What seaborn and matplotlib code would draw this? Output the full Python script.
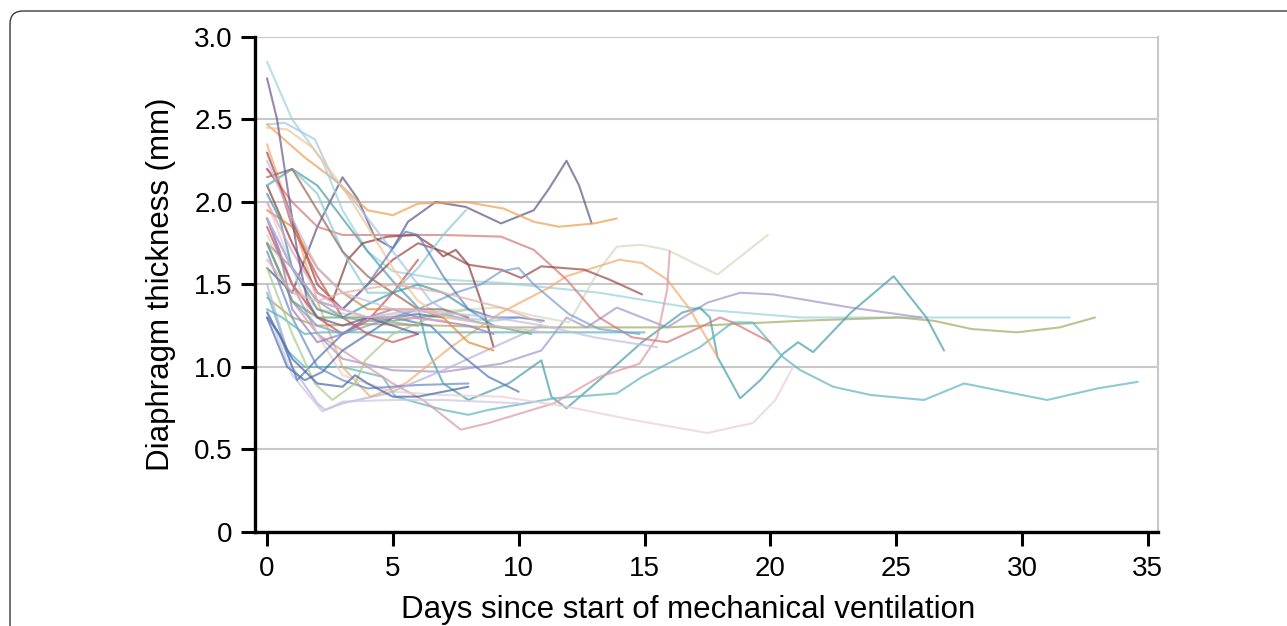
import numpy as np
import pandas as pd
import matplotlib
matplotlib.use("Agg")
import matplotlib.pyplot as plt
from matplotlib.patches import FancyBboxPatch
import seaborn as sns

# Diaphragm thickness per patient: (day, mm)
pt01 = [(0, 1.6), (1, 1.45), (2, 1.85), (3, 2.15), (3.6, 2.02), (4.3, 1.78), (5, 1.72), (5.6, 1.88), (6.7, 2.0),
        (7.9, 1.97), (9.3, 1.87), (10.6, 1.95), (11.2, 2.08), (11.9, 2.25), (12.4, 2.1), (12.9, 1.87)]
pt02 = [(0, 2.47), (1.5, 2.27), (2.8, 2.12), (4, 1.95), (5, 1.92), (6, 1.99), (7.9, 2.0), (9.4, 1.96), (10.6, 1.88),
        (11.6, 1.85), (13, 1.87), (13.9, 1.9)]
pt03 = [(0, 2.85), (1, 2.5), (2.2, 2.25), (3, 1.95), (4, 1.7), (5, 1.58), (7, 1.53), (9.3, 1.51), (13.2, 1.45),
        (17.2, 1.35), (21.2, 1.3), (25, 1.3), (31.9, 1.3)]
pt04 = [(0, 1.42), (1, 1.3), (2, 1.25), (4, 1.26), (7, 1.25), (9.3, 1.24), (15.9, 1.24), (21.2, 1.28), (25.1, 1.3),
        (26.5, 1.28), (28, 1.23), (29.8, 1.21), (31.5, 1.24), (32.9, 1.3)]
pt05 = [(0, 1.9), (1, 1.5), (2, 1.2), (3, 1.05), (5, 0.98), (7, 0.97), (9.3, 1.02), (10.9, 1.1), (11.9, 1.3),
        (12.7, 1.24), (13.9, 1.36), (14.9, 1.3), (15.9, 1.24), (17.5, 1.39), (18.8, 1.45), (20.1, 1.44),
        (23.2, 1.36), (26, 1.3)]
pt06 = [(0, 2.1), (1, 2.2), (2, 2.1), (3, 1.9), (4, 1.7), (5, 1.52), (6, 1.36), (6.4, 1.1), (7, 0.9), (8, 0.8),
        (9.6, 0.9), (10.9, 1.04), (11.3, 0.82), (11.9, 0.75), (13.2, 0.92), (14.9, 1.15), (16.5, 1.33),
        (17.2, 1.36), (17.6, 1.3), (17.9, 1.06), (18.8, 0.81), (19.6, 0.92), (20.5, 1.08), (21.1, 1.15),
        (21.7, 1.09), (23.2, 1.33), (24.9, 1.55), (26.2, 1.3), (26.9, 1.1)]
pt07 = [(0, 1.45), (0.8, 1.1), (1.5, 1.0), (3, 1.0), (4.6, 0.94), (5.1, 0.82), (7, 0.74), (8, 0.71), (8.8, 0.74),
        (11.4, 0.81), (13.9, 0.84), (14.9, 0.94), (17.2, 1.12), (18.5, 1.27), (19.3, 1.27), (20.5, 1.06),
        (21.2, 0.98), (22.5, 0.88), (24, 0.83), (26.1, 0.8), (27.7, 0.9), (29, 0.86), (31, 0.8), (33, 0.87),
        (34.6, 0.91)]
pt08 = [(0, 1.8), (1, 1.5), (2, 1.35), (4, 1.3), (6, 1.33), (8, 1.35), (9.3, 1.36), (10.6, 1.31), (12, 1.27),
        (13.2, 1.59), (13.9, 1.73), (14.9, 1.74), (15.9, 1.71), (17.9, 1.56), (19.9, 1.8)]
pt09 = [(0, 2.35), (1, 1.9), (2, 1.4), (3, 1.0), (4.1, 0.82), (5.5, 0.9), (7.3, 1.12), (9.3, 1.33), (11.2, 1.48),
        (11.9, 1.55), (14, 1.65), (14.9, 1.63), (15.9, 1.53), (16.8, 1.35), (17.9, 1.06)]
pt10 = [(0, 1.75), (1, 1.4), (2, 1.2), (3, 1.1), (4, 1.0), (5, 0.9), (6.2, 0.8), (7.7, 0.62), (8.8, 0.66),
        (11.4, 0.78), (13.2, 0.94), (14.8, 1.02), (15.5, 1.18), (15.9, 1.47), (16, 1.7)]
pt11 = [(0, 2.0), (1, 1.6), (2, 1.2), (3, 0.95), (5, 0.85), (7, 0.83), (9.3, 0.82), (11.9, 0.76), (14.5, 0.68),
        (17.5, 0.6), (19.3, 0.66), (20.2, 0.8), (20.9, 1.0)]
pt12 = [(0, 2.2), (1, 2.0), (2, 1.85), (3, 1.8), (5, 1.8), (7, 1.8), (9.3, 1.79), (10.6, 1.71), (11.9, 1.53),
        (13.2, 1.3), (14.5, 1.18), (15.9, 1.15), (17.2, 1.24), (18, 1.3), (18.5, 1.27), (20, 1.15)]
pt13 = [(0, 2.3), (1, 1.9), (2, 1.5), (3, 1.35), (4, 1.5), (5, 1.65), (6, 1.75), (7, 1.7), (8, 1.62), (9.3, 1.59),
        (10.1, 1.54), (10.9, 1.61), (12.6, 1.59), (13.6, 1.53), (14.9, 1.44)]
pt14 = [(0, 2.1), (1, 1.75), (2, 1.45), (2.6, 1.4), (3.2, 1.65), (3.8, 1.75), (4.8, 1.79), (5.9, 1.8), (6.6, 1.73),
        (7, 1.67), (7.5, 1.71), (8, 1.62), (8.5, 1.4), (9, 1.12)]
pt15 = [(0, 1.85), (1, 1.5), (2, 1.3), (3, 1.2), (4, 1.28), (5, 1.45), (6, 1.65)]
pt16 = [(0, 1.7), (1, 1.3), (2, 1.0), (3, 0.92), (4, 0.87), (5.9, 0.89), (8, 0.9)]
pt17 = [(0, 1.5), (1, 1.0), (2, 0.78), (2.3, 0.74), (3, 0.78), (4.8, 0.84), (7, 0.98), (9, 1.12), (10.9, 1.25)]
pt18 = [(0, 1.35), (1, 0.95), (2.2, 0.73), (3, 0.79), (5, 0.8), (7, 0.8), (10, 0.78)]
pt19 = [(0, 1.3), (0.5, 1.2), (1.2, 0.92), (2, 1.05), (3, 1.2), (4, 1.3), (5, 1.3), (6.5, 1.25), (7.5, 1.1),
        (8.8, 0.94), (10, 0.85)]
pt20 = [(0, 1.75), (1, 1.4), (2, 1.25), (3, 1.2), (4, 1.25), (6, 1.35), (7.5, 1.45), (8.5, 1.5), (9.3, 1.58),
        (10, 1.6), (10.6, 1.5), (12, 1.32), (13.2, 1.23), (14.8, 1.2)]
pt21 = [(0, 1.35), (0.6, 1.3), (1.5, 1.2), (2.2, 1.21), (5, 1.21), (8.8, 1.21), (11, 1.21), (13, 1.21), (15, 1.21)]
pt22 = [(0, 1.75), (1, 1.4), (2, 1.3), (3, 1.3), (4, 1.3), (5, 1.28), (7, 1.32), (9, 1.25), (10.5, 1.2)]
pt23 = [(0, 1.6), (1, 1.2), (1.9, 0.9), (2.6, 0.8), (3.5, 0.9), (3.9, 1.04), (5, 1.2), (6.5, 1.3), (8, 1.35)]
pt24 = [(0, 1.3), (0.8, 1.0), (1.5, 0.92), (2.2, 0.97), (3, 1.1), (4, 1.2), (5, 1.3), (6, 1.32), (7, 1.3)]
pt25 = [(0, 1.33), (1, 1.05), (2, 0.9), (3, 0.88), (3.5, 0.95), (4, 0.9), (5, 0.82), (6, 0.82), (7, 0.85), (8, 0.88)]
pt26 = [(0, 2.47), (0.7, 2.48), (1.9, 2.38), (2.6, 2.15), (3.5, 2.0), (4.5, 1.8), (5.5, 1.6), (6.5, 1.4), (7.5, 1.3),
        (9, 1.28), (10, 1.3)]
pt27 = [(0, 2.45), (0.8, 2.44), (1.8, 2.33), (3, 2.09), (4, 1.85), (5, 1.6), (6, 1.4), (7, 1.3), (8, 1.28)]
pt28 = [(0, 2.1), (1, 2.2), (2, 2.05), (3, 1.7), (4, 1.45), (5, 1.45), (6, 1.6), (7, 1.8), (7.9, 1.95)]
pt29 = [(0, 1.9), (0.5, 1.7), (1, 1.35), (2, 1.15), (3, 1.2), (4, 1.3), (5, 1.35), (6, 1.3), (8, 1.25), (9, 1.2)]
pt30 = [(0, 2.2), (0.5, 2.1), (1, 1.85), (2, 1.55), (3, 1.3), (4, 1.2), (5, 1.15), (6, 1.2)]
pt31 = [(0, 1.95), (1, 1.85), (2, 1.6), (3, 1.45), (4, 1.35), (5, 1.35), (6, 1.35), (7, 1.3), (8, 1.15), (9, 1.1)]
pt32 = [(0, 1.75), (1, 1.6), (2, 1.4), (3, 1.3), (4, 1.28), (5, 1.27), (6, 1.25)]
pt33 = [(0, 2.05), (0.5, 1.9), (1, 1.6), (2, 1.35), (3, 1.3), (4, 1.38), (5, 1.45), (6, 1.5), (7, 1.45), (8, 1.35),
        (9, 1.25)]
pt34 = [(0, 2.15), (1, 2.2), (2, 1.95), (3, 1.7), (4, 1.55), (5, 1.45), (6, 1.35), (7, 1.35), (8, 1.3)]
pt35 = [(0, 1.9), (1, 1.6), (2, 1.4), (3, 1.35), (4, 1.5), (5, 1.72), (5.5, 1.82), (6, 1.8), (7, 1.55), (8, 1.35),
        (9, 1.3), (10, 1.3), (11, 1.28)]
pt36 = [(0, 2.0), (1, 1.7), (2, 1.45), (3, 1.35), (4, 1.3), (5.5, 1.3), (7, 1.28)]
pt37 = [(0, 2.75), (0.4, 2.5), (0.8, 2.1), (1.2, 1.7), (1.6, 1.4), (2, 1.3), (3, 1.25), (4, 1.3), (5, 1.25), (6, 1.2)]
pt38 = [(0, 1.9), (1, 1.6), (2, 1.4), (4, 1.3), (6, 1.35), (7.3, 1.3), (9, 1.25), (11, 1.21)]
pt39 = [(0, 1.65), (1, 1.45), (2, 1.4), (3, 1.45), (5, 1.5), (7, 1.45), (9.3, 1.36), (10.9, 1.27)]
pt40 = [(0, 2.25), (1, 1.9), (2, 1.6), (3, 1.45), (5, 1.35), (7, 1.33), (9, 1.3), (11, 1.25), (13, 1.18),
        (15.5, 1.12)]

patients = [pt01, pt02, pt03, pt04, pt05, pt06, pt07, pt08, pt09, pt10,
            pt11, pt12, pt13, pt14, pt15, pt16, pt17, pt18, pt19, pt20,
            pt21, pt22, pt23, pt24, pt25, pt26, pt27, pt28, pt29, pt30,
            pt31, pt32, pt33, pt34, pt35, pt36, pt37, pt38, pt39, pt40]

line_colors = ['#5e5a85', '#f0a04e', '#9ad3dd', '#a6ab62', '#a597cc', '#4b9fae', '#62b5c4', '#d5d9c0',
               '#f3ad6c', '#dc9aa6', '#ebcdd2', '#d47a7a', '#9c4a4a', '#8e4040', '#d05050', '#6a8cc8',
               '#bcb0dc', '#cfc6e4', '#5578b8', '#7a9fd4', '#5fb2c0', '#6aaa6a', '#a9cc8e', '#4f72b0',
               '#4a6aa8', '#a8c4e6', '#f6c292', '#86cbd8', '#9680c0', '#c85a5a', '#e48a3c', '#9c9c9c',
               '#3f9aa8', '#9b6a58', '#5d82c2', '#e3a0c4', '#6c5c90', '#d8b8d8', '#e8b0a8', '#c6bde0']

x_ticks = [0, 5, 10, 15, 20, 25, 30, 35]
y_ticks = [0, 0.5, 1.0, 1.5, 2.0, 2.5, 3.0]
y_tick_labels = ['0', '0.5', '1.0', '1.5', '2.0', '2.5', '3.0']

# long-form table for seaborn
rows = []
for i, pts in enumerate(patients):
    for day, mm in pts:
        rows.append({'patient': f'P{i + 1:02d}', 'day': day, 'mm': mm})
df = pd.DataFrame(rows)
palette = {f'P{i + 1:02d}': c for i, c in enumerate(line_colors)}

sns.set_style('white')
plt.rcParams['font.family'] = ['Liberation Sans', 'DejaVu Sans']
plt.rcParams['text.color'] = 'black'
plt.rcParams['axes.labelcolor'] = 'black'
plt.rcParams['xtick.color'] = 'black'
plt.rcParams['ytick.color'] = 'black'

fig = plt.figure(figsize=(12.87, 6.26), dpi=100)
ax = fig.add_axes([0.1981, 0.1502, 0.7016, 0.7907])

# outer rounded frame (clipped at right/bottom like the source)
frame = FancyBboxPatch((0.10, -0.5), 14.0, 6.65, boxstyle='round,pad=0,rounding_size=0.13',
                       transform=fig.dpi_scale_trans, facecolor='none', edgecolor='#3a3a3a',
                       linewidth=1.0, clip_on=False)
fig.patches.append(frame)

ax.yaxis.grid(True, color='#c8c8c8', linewidth=1.5)
ax.xaxis.grid(False)
ax.set_axisbelow(True)

sns.lineplot(data=df, x='day', y='mm', hue='patient', palette=palette, estimator=None,
             sort=False, legend=False, linewidth=1.5, alpha=0.72, ax=ax)

ax.set_xlim(-0.48, 35.4)
ax.set_ylim(0, 3.0)
ax.set_xticks(x_ticks)
ax.set_yticks(y_ticks)
ax.set_yticklabels(y_tick_labels)

for side in ['left', 'bottom']:
    ax.spines[side].set_color('black')
    ax.spines[side].set_linewidth(2.4)
ax.spines['top'].set_visible(False)
ax.spines['right'].set_color('#c8c8c8')
ax.spines['right'].set_linewidth(1.5)

ax.tick_params(axis='both', direction='out', length=10, width=2.2, color='black',
               labelcolor='black', labelsize=20, pad=6, left=True, bottom=True)
ax.tick_params(axis='x', pad=7)

ax.set_xlabel('Days since start of mechanical ventilation', fontsize=22.5, labelpad=10)
ax.set_ylabel('Diaphragm thickness (mm)', fontsize=22.5, labelpad=13)
ax.xaxis.label.set_x(0.48)

fig.savefig('out.png', dpi=100)
